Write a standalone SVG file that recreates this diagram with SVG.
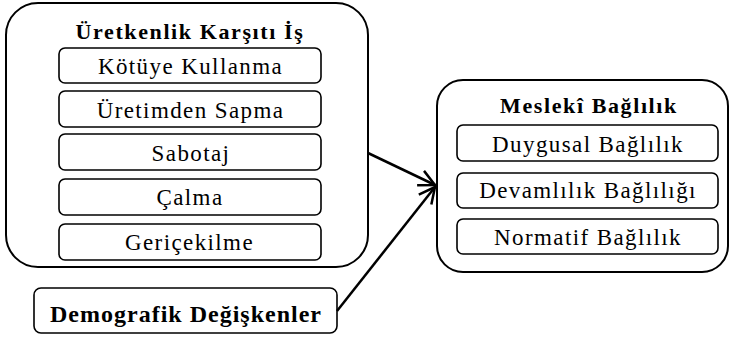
<svg xmlns="http://www.w3.org/2000/svg" width="730" height="337" viewBox="0 0 730 337" font-family="Liberation Serif, Times New Roman, serif" font-size="23" text-anchor="middle">
<style>
.outer{fill:#fff;stroke:#000;stroke-width:2}
.inner{fill:#fff;stroke:#000;stroke-width:1.6}
.lbl{font-family:'Liberation Serif',serif;font-size:23px;fill:#000;text-anchor:middle;letter-spacing:1.4px}
.bold{font-weight:bold;font-size:22px;letter-spacing:1.6px}
.big{font-weight:bold;font-size:24px;letter-spacing:1px}
.con{stroke:#000;stroke-width:2.5;fill:none}
</style>
<defs>
<marker id="arr" markerUnits="userSpaceOnUse" markerWidth="30" markerHeight="30" viewBox="-20 -15 30 30" refX="0" refY="0" orient="auto">
<path d="M-16,-8 L0,0 L-16,8" fill="none" stroke="#000" stroke-width="2.5" stroke-linejoin="miter"/>
</marker>
</defs>
<g id="uretkenlik">
<rect class="outer" x="6" y="3" width="362" height="264" rx="32"/>
<text class="lbl bold" x="190" y="38.5">Üretkenlik Karşıtı İş</text>
<rect class="inner" x="59" y="48" width="262" height="35" rx="6"/>
<text class="lbl" x="190.5" y="74">Kötüye Kullanma</text>
<rect class="inner" x="59" y="91" width="262" height="36" rx="6"/>
<text class="lbl" x="190.5" y="118">Üretimden Sapma</text>
<rect class="inner" x="59" y="134" width="262" height="36" rx="6"/>
<text class="lbl" x="191" y="161">Sabotaj</text>
<rect class="inner" x="59" y="179" width="262" height="36" rx="6"/>
<text class="lbl" x="190" y="205">Çalma</text>
<rect class="inner" x="59" y="224" width="262" height="36" rx="6"/>
<text class="lbl" x="189.5" y="250">Geriçekilme</text>
</g>
<g id="meslek">
<rect class="outer" x="437" y="80" width="291" height="192" rx="26"/>
<text class="lbl bold" x="589" y="113">Meslekî Bağlılık</text>
<rect class="inner" x="457" y="125" width="261" height="36" rx="6"/>
<text class="lbl" x="588" y="152">Duygusal Bağlılık</text>
<rect class="inner" x="457" y="173" width="261" height="35" rx="6"/>
<text class="lbl" x="588" y="198">Devamlılık Bağlılığı</text>
<rect class="inner" x="457" y="219" width="261" height="35" rx="6"/>
<text class="lbl" x="588" y="245">Normatif Bağlılık</text>
</g>
<g id="demografik">
<rect class="inner" x="34" y="288" width="303" height="45" rx="7"/>
<text class="lbl big" x="186" y="322">Demografik Değişkenler</text>
</g>
<g id="connectors">
<line class="con" x1="368" y1="153" x2="435" y2="185" marker-end="url(#arr)"/>
<line class="con" x1="337" y1="311" x2="435" y2="187" marker-end="url(#arr)"/>
</g>
</svg>
